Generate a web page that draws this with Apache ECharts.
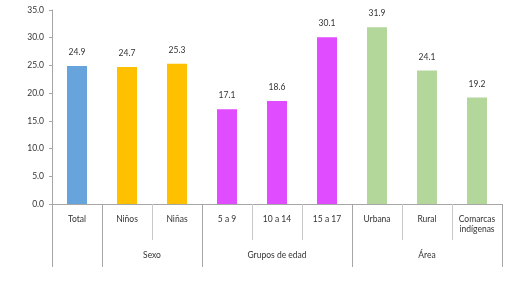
<!DOCTYPE html>
<html>
<head>
<meta charset="utf-8">
<script src="https://cdn.jsdelivr.net/npm/echarts@6/dist/echarts.min.js"></script>
<style>html,body{margin:0;padding:0;background:#fff;}#c{width:525px;height:282px;}</style>
</head>
<body>
<div id="c"></div>
<script>
var categories = ['Total', 'Niños', 'Niñas', '5 a 9', '10 a 14', '15 a 17', 'Urbana', 'Rural', 'Comarcas\nindígenas'];
var values = [24.9, 24.7, 25.3, 17.1, 18.6, 30.1, 31.9, 24.1, 19.2];
var groupNames = ['', 'Sexo', 'Grupos de edad', 'Área'];
var groupSizes = [1, 2, 3, 3];
var groupColors = ['#67A4DB', '#FFC000', '#E04CFF', '#B3D79A'];
var yTicks = ['0.0', '5.0', '10.0', '15.0', '20.0', '25.0', '30.0', '35.0'];

var FONT = 'Lato';
var FS = 8.5;
var gridLeft = 52, gridRight = 23;
var bandW = (525 - gridLeft - gridRight) / categories.length;

// build group axis data
var groupStart = [];
var barColors = [];
var groupLabelAt = {};
var s = 0;
groupSizes.forEach(function (n, g) {
  groupStart.push(s);
  for (var i = 0; i < n; i++) barColors.push(groupColors[g]);
  var c = s + (n - 1) / 2;
  groupLabelAt[Math.floor(c)] = { name: groupNames[g], half: c % 1 !== 0 };
  s += n;
});
var groupAxisData = categories.map(function (_, i) { return groupLabelAt[i] ? groupLabelAt[i].name : ''; });

var option = {
  animation: false,
  grid: { left: gridLeft, right: gridRight, top: 10, bottom: 78 },
  xAxis: [{
    type: 'category',
    position: 'bottom',
    data: categories,
    axisLine: { lineStyle: { color: '#A6A6A6', width: 1 } },
    axisTick: { show: true, interval: 0, length: 36, lineStyle: { color: '#C8C8C8' } },
    axisLabel: { interval: 0, margin: 10, fontFamily: FONT, fontSize: FS, color: '#333', lineHeight: 10 }
  }, {
    type: 'category',
    position: 'bottom',
    offset: 0,
    data: groupAxisData,
    axisLine: { show: false },
    axisTick: {
      show: true, length: 63,
      interval: function (i) { return groupStart.indexOf(i) >= 0; },
      lineStyle: { color: '#A6A6A6' }
    },
    axisLabel: {
      interval: function (i) { return !!groupLabelAt[i] && groupLabelAt[i].name !== ''; },
      margin: 47, fontFamily: FONT, fontSize: FS, color: '#333',
      formatter: function (v, i) {
        if (groupLabelAt[i] && groupLabelAt[i].half) return '{h|' + v + '}';
        return v;
      },
      rich: { h: { padding: [0, 0, 0, bandW], fontFamily: FONT, fontSize: FS, color: '#333' } }
    }
  }],
  yAxis: {
    type: 'value',
    min: 0, max: 35, interval: 5,
    splitLine: { show: false },
    axisLine: { show: true, lineStyle: { color: '#A6A6A6' } },
    axisTick: { show: true, length: 3, lineStyle: { color: '#A6A6A6' } },
    axisLabel: {
      margin: 8, fontFamily: FONT, fontSize: FS, color: '#333',
      formatter: function (v) { return yTicks[Math.round(v / 5)]; }
    }
  },
  series: [{
    type: 'bar',
    xAxisIndex: 0,
    barWidth: 20,
    data: values.map(function (v, i) { return { value: v, itemStyle: { color: barColors[i] } }; }),
    label: {
      show: true, position: 'top', distance: 9,
      fontFamily: FONT, fontSize: FS, color: '#333',
      formatter: function (p) { return p.value.toFixed(1); }
    }
  }]
};
echarts.init(document.getElementById('c'), null, { renderer: 'canvas' }).setOption(option);
</script>
</body>
</html>
